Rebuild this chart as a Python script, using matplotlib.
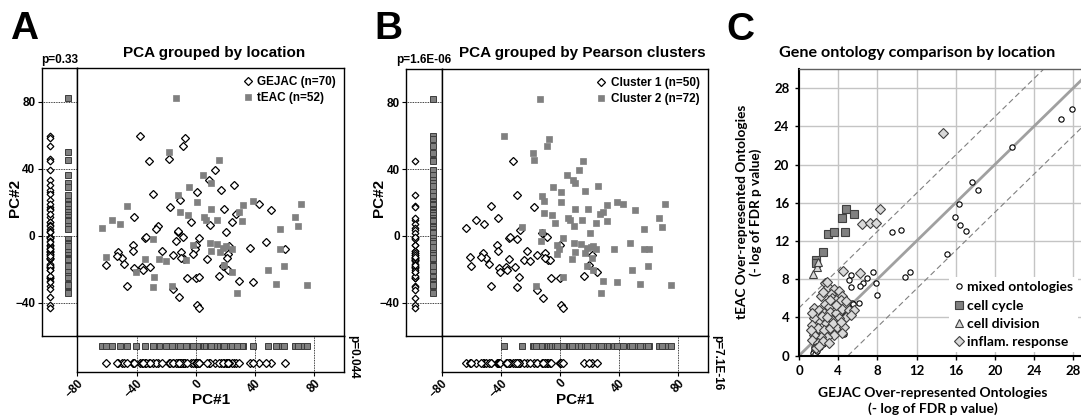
import matplotlib
matplotlib.use("Agg")
import matplotlib.pyplot as plt

# ---- PCA data (PC#1, PC#2) for 122 tumours -------------------------------
pc1 = [
    -37.6, -13.4, -7.4, -8.9, -18.4, -17.9, 15.7, 12.8, 4.9, -31.8,
    9.0, 10.0, -4.5, 0.5, 16.8, 25.8, -12.3, -29.1, -46.6, -17.3,
    -10.7, 0.5, 38.8, 42.6, 70.8, 31.8, 19.1, 9.9, 50.4, -56.5,
    -51.5, -41.9, -63.6, 29.1, 26.9, -10.7, -5.6, 67.2, 5.2, 6.7,
    14.6, -3.1, 24.4, 31.4, 9.4, 68.8, -25.8, -26.9, 57.0, -34.5,
    -33.8, -28.9, -12.3, -8.9, -11.9, 20.4, 2.3, -13.2, -42.6, -42.1,
    -52.4, -60.9, -49.8, -60.5, -48.2, -34.3, -22.6, -24.6, -20.2, -15.7,
    -9.9, -8.3, -6.7, -10.1, 0.0, -2.2, -0.7, -2.2, 9.4, 14.3,
    9.9, 16.6, 18.0, 22.4, 24.2, 21.7, 36.3, 47.1, 56.7, 60.1,
    7.8, 20.6, 21.3, -41.4, -40.3, -36.3, -30.7, -35.9, -28.0, -46.6,
    -29.1, -16.4, -15.7, -11.6, -6.0, 0.0, 2.3, 15.9, 19.3, 24.7,
    18.0, 22.0, 48.6, 59.2, 29.1, 38.3, 54.0, 75.1, 27.6, 0.5,
    2.2, -53.5,
]
pc2 = [
    59.7, 81.8, 58.3, 53.7, 49.8, 45.4, 45.0, 39.4, 36.4, 44.6,
    33.4, 31.5, 29.1, 26.1, 26.9, 30.0, 24.1, 24.5, 17.9, 17.1,
    21.1, 20.1, 20.5, 19.1, 19.1, 18.5, 15.9, 16.1, 15.5, 9.5,
    7.0, 10.9, 4.6, 14.3, 13.1, 13.9, 12.3, 10.9, 10.9, 9.5,
    9.5, 7.9, 7.9, 8.8, 6.0, 5.6, 5.6, 3.6, 4.0, -1.4,
    -0.8, -2.0, 2.0, -0.8, 2.4, 2.0, -1.2, -3.0, -5.4, -9.0,
    -10.0, -12.9, -13.5, -17.9, -17.1, -13.9, -9.2, -14.3, -15.3, -11.6,
    -10.0, -14.3, -14.7, -13.5, -5.6, -5.4, -7.9, -10.8, -4.4, -4.8,
    -9.4, -10.0, -7.4, -6.0, -8.0, -11.3, -7.6, -4.0, -8.0, -8.0,
    -13.9, -6.4, -13.4, -19.3, -21.9, -18.7, -18.7, -20.3, -24.9, -29.9,
    -30.6, -30.3, -32.2, -37.0, -25.5, -25.5, -24.7, -24.3, -17.5, -21.5,
    -18.3, -20.7, -20.3, -18.3, -27.3, -27.9, -29.1, -29.5, -34.2, -41.4,
    -43.4, -12.5,
]
# G = GEJAC, T = tEAC
location = list(
    "GTGGTGTGTG" "GTTGGGTGTG" "GTTGTTGTGT" "TGTTGTTTTT"
    "TGGTGTGGTG" "GTGGGGGGGG" "GTGGGTGTTG" "GGTGGTGGTT"
    "TTTGTGGGTG" "GTGGTGGGTG" "TTGGGGGGTT" "GGTTGGTTTG"
    "GG"
)
# Pearson cluster membership
cluster = [
    2, 2, 2, 2, 2, 2, 2, 2, 2, 1, 2, 2, 2, 2, 2, 2, 2, 1, 1, 1,
    2, 2, 2, 2, 2, 2, 2, 2, 2, 1, 1, 1, 1, 2, 2, 2, 2, 2, 2, 2,
    2, 2, 2, 2, 2, 2, 2, 1, 2, 1, 1, 1, 1, 1, 2, 2, 2, 2, 1, 1,
    1, 1, 1, 1, 1, 1, 1, 1, 1, 1, 1, 1, 1, 1, 1, 2, 2, 2, 2, 2,
    2, 2, 2, 2, 2, 1, 2, 2, 2, 2, 2, 2, 2, 1, 1, 1, 1, 1, 1, 1,
    1, 2, 1, 1, 1, 1, 2, 1, 1, 1, 2, 2, 2, 2, 2, 2, 2, 2, 2, 1,
    1, 1,
]

# ---- Gene ontology data (-log FDR p) --------------------------------------
mixed_x = [26.8, 27.9, 21.8, 17.7, 18.3, 16.3, 15.9, 16.45, 17.05, 15.1,
           9.5, 10.4, 10.8, 11.3, 7.56, 6.98, 6.57, 6.2, 7.83, 8.0,
           5.28, 5.1, 5.35, 5.45, 6.13, 4.5, 4.6, 4.43,
           1.5, 1.6, 1.7, 1.9, 2.0, 2.2, 2.3, 2.5, 2.7, 2.9,
           3.0, 3.2, 3.4, 3.6, 3.8, 4.0, 4.1, 4.3, 4.5, 4.8,
           5.0, 5.2, 5.5, 1.4, 1.6, 1.8, 2.1, 2.4, 2.6, 3.1,
           3.5, 3.9, 1.5, 1.8, 2.1, 1.5, 1.7, 1.6, 4.6, 4.2]
mixed_y = [24.8, 25.8, 21.8, 18.2, 17.35, 15.9, 14.55, 13.7, 13.0, 10.65,
           12.9, 13.2, 8.27, 8.8, 8.8, 8.17, 7.65, 7.3, 7.65, 6.4,
           8.45, 7.93, 7.23, 5.55, 5.55, 3.1, 2.3, 2.7,
           0.6, 1.0, 1.4, 1.2, 1.8, 1.5, 2.2, 2.0, 2.6, 2.4,
           3.1, 2.8, 3.3, 3.0, 3.6, 3.3, 4.0, 3.7, 4.2, 4.4,
           4.6, 4.9, 5.4, 0.3, 0.2, 0.5, 0.9, 1.2, 1.7, 2.2,
           2.5, 2.9, 1.8, 2.2, 2.6, 0.9, 0.7, 1.5, 4.8, 4.5]

cycle_x = [4.75, 4.35, 5.6, 2.95, 3.6, 4.7, 2.45, 1.75, 1.7]
cycle_y = [15.3, 14.45, 14.8, 12.7, 12.9, 12.9, 10.8, 10.0, 9.7]

division_x = [1.4, 1.8, 1.9]
division_y = [8.6, 9.3, 9.8]

inflam_x = [14.7, 8.3, 6.4, 7.2, 7.9, 4.5, 6.2, 2.7, 3.0, 3.6,
            3.3, 4.1, 4.4, 3.4, 3.8, 2.7, 3.1, 4.3, 4.8, 1.5,
            2.0, 2.55, 3.2, 3.75, 4.4, 5.1, 4.8, 4.1, 3.4, 2.7,
            2.0, 1.5, 1.35, 1.9, 2.55, 3.2, 3.9, 4.6, 4.4, 3.6,
            2.9, 2.2, 1.5, 1.35, 1.9, 2.4, 3.05, 1.7, 1.2, 5.6,
            3.75, 2.2, 2.4, 2.85, 3.2, 1.3, 2.3, 2.9, 3.5, 4.3,
            5.3, 2.0]
inflam_y = [23.3, 15.3, 13.8, 13.9, 13.9, 8.9, 8.7, 7.65, 7.2, 6.95,
            6.5, 6.8, 6.25, 6.0, 5.8, 5.4, 5.1, 5.8, 5.7, 5.0,
            4.8, 4.45, 4.6, 4.45, 4.85, 4.8, 4.1, 3.9, 3.75, 3.55,
            3.75, 3.9, 3.2, 2.9, 2.7, 2.9, 3.0, 3.0, 2.35, 2.2,
            2.0, 2.0, 2.2, 1.65, 1.3, 1.5, 1.3, 0.8, 2.7, 4.8,
            5.3, 6.2, 6.7, 7.75, 5.8, 4.5, 4.2, 4.0, 3.4, 3.5,
            4.3, 1.0]

W, H = 1081, 418
ARIAL = "Liberation Sans"
CALIBRI = "Lato"
GREY = "#808080"

fig = plt.figure(figsize=(W / 100, H / 100), dpi=100)


def px_box(x0, y0, x1, y1):
    return [x0 / W, 1 - y1 / H, (x1 - x0) / W, (y1 - y0) / H]


def bold_ticks(ax, size=8.5, family=ARIAL):
    for lab in ax.get_xticklabels() + ax.get_yticklabels():
        lab.set_fontfamily(family)
        lab.set_fontweight("bold")
        lab.set_fontsize(size)


def pca_panel(geom, square_group, names, title, title_x, p_top, p_right, letter):
    sl, ml, mr, top, mb, bb = geom
    ax_l = fig.add_axes(px_box(sl, top, ml, mb))
    ax_m = fig.add_axes(px_box(ml, top, mr, mb))
    ax_b = fig.add_axes(px_box(ml, mb, mr, bb))

    xa = [x for x, s in zip(pc1, square_group) if not s]
    ya = [y for y, s in zip(pc2, square_group) if not s]
    xb = [x for x, s in zip(pc1, square_group) if s]
    yb = [y for y, s in zip(pc2, square_group) if s]

    dia = dict(marker="D", ls="none", mfc="white", mec="black", mew=0.9)
    sq = dict(marker="s", ls="none", mfc=GREY, mec=GREY, mew=0.5)
    sq_strip = dict(marker="s", ls="none", mfc=GREY, mec="#3c3c3c", mew=0.7)

    ax_m.plot(xa, ya, ms=3.9, label=f"{names[0]} (n={len(xa)})", **dia)
    ax_m.plot(xb, yb, ms=4.8, label=f"{names[1]} (n={len(xb)})", **sq)
    ax_m.set_xlim(-80, 100)
    ax_m.set_ylim(-60, 100)
    ax_m.set_xticks([])
    ax_m.set_yticks([])
    ax_m.legend(loc="upper right", frameon=False, handletextpad=0.3,
                borderaxespad=0.3, labelspacing=0.35, handlelength=1.0,
                prop={"family": ARIAL, "weight": "bold", "size": 8.5})

    # strip of PC#2 values
    ax_l.plot([0.24] * len(ya), ya, ms=3.4, **dia)
    ax_l.plot([0.75] * len(yb), yb, ms=4.4, **sq_strip)
    ax_l.set_xlim(0, 1)
    ax_l.set_ylim(-60, 100)
    ax_l.set_xticks([])
    ax_l.set_yticks([-40, 0, 40, 80])
    ax_l.yaxis.grid(True, ls=(0, (1, 1)), color="black", lw=0.6)
    ax_l.set_axisbelow(True)
    ax_l.tick_params(axis="y", length=3, width=0.8, pad=1.5)
    bold_ticks(ax_l)

    # strip of PC#1 values
    ax_b.plot(xb, [0.72] * len(xb), ms=5.0, **sq_strip)
    ax_b.plot(xa, [0.25] * len(xa), ms=3.9, **dia)
    ax_b.set_xlim(-80, 100)
    ax_b.set_ylim(0, 1)
    ax_b.set_yticks([])
    ax_b.set_xticks([-80, -40, 0, 40, 80])
    ax_b.xaxis.grid(True, ls=(0, (1, 1)), color="black", lw=0.6)
    ax_b.set_axisbelow(True)
    ax_b.tick_params(axis="x", length=3, width=0.8, pad=1)
    bold_ticks(ax_b)
    plt.setp(ax_b.get_xticklabels(), rotation=45, ha="right", va="top",
             rotation_mode="anchor")

    for ax in (ax_l, ax_m, ax_b):
        for sp in ax.spines.values():
            sp.set_linewidth(1.0)

    fig.text(title_x / W, 1 - 53 / H, title, ha="center", va="center",
             fontsize=11, fontweight="bold", family=ARIAL)
    fig.text((sl + ml) / 2 / W, 1 - 60 / H, p_top, ha="center", va="center",
             fontsize=8.5, fontweight="bold", family=ARIAL)
    fig.text((mr + 9) / W, 1 - 335 / H, p_right, ha="center", va="top",
             rotation=270, fontsize=8.5, fontweight="bold", family=ARIAL)
    fig.text((sl - 27) / W, 1 - 198 / H, "PC#2", ha="center", va="center",
             rotation=90, fontsize=11, fontweight="bold", family=ARIAL)
    fig.text((ml + mr) / 2 / W, 1 - 400 / H, "PC#1", ha="center", va="center",
             fontsize=11, fontweight="bold", family=ARIAL)
    fig.text((sl - 32) / W, 1 - 29 / H, letter, ha="left", va="center",
             fontsize=28, fontweight="bold", family=ARIAL)


pca_panel((41.7, 77.3, 344, 68, 336, 372), [c == "T" for c in location],
          ("GEJAC", "tEAC"), "PCA grouped by location", 214,
          "p=0.33", "p=0.044", "A")
pca_panel((406, 441.7, 708, 69, 336, 371.7), [c == 2 for c in cluster],
          ("Cluster 1", "Cluster 2"), "PCA grouped by Pearson clusters", 582,
          "p=1.6E-06", "p=7.1E-16", "B")

# ---- Panel C --------------------------------------------------------------
ax_c = fig.add_axes(px_box(799, 69, 1081, 355.7))
ax_c.set_xlim(0, 28.8)
ax_c.set_ylim(0, 30)
ax_c.set_xticks(range(0, 29, 4))
ax_c.set_yticks(range(0, 29, 4))
ax_c.grid(True, color="#c4c4c4", lw=1.0)
ax_c.set_axisbelow(True)
ax_c.axline((0, 0), slope=1, color="#a0a0a0", lw=2.0, zorder=1)
ax_c.axline((0, 5), slope=1, color="#808080", lw=0.8, ls=(0, (5, 3)), zorder=1)
ax_c.axline((5, 0), slope=1, color="#808080", lw=0.8, ls=(0, (5, 3)), zorder=1)

ax_c.plot(mixed_x, mixed_y, "o", ms=3.8, mfc="white", mec="black", mew=0.8,
          label="mixed ontologies")
ax_c.plot(cycle_x, cycle_y, "s", ms=6.2, mfc=GREY, mec="#404040", mew=0.8,
          label="cell cycle")
ax_c.plot(division_x, division_y, "^", ms=5.2, mfc="#d9d9d9", mec="#404040",
          mew=0.8, label="cell division")
ax_c.plot(inflam_x, inflam_y, "D", ms=4.8, mfc="#d9d9d9", mec="#404040",
          mew=0.8, label="inflam. response")

ax_c.spines["right"].set_visible(False)
ax_c.spines["top"].set_color("#606060")
ax_c.spines["top"].set_linewidth(1.0)
ax_c.spines["left"].set_linewidth(1.5)
ax_c.spines["bottom"].set_linewidth(1.5)
ax_c.tick_params(length=3, width=1, pad=4)
bold_ticks(ax_c, size=9.5, family=CALIBRI)

leg = ax_c.legend(loc="lower right", bbox_to_anchor=(1.0, 0.0),
                  frameon=True, fancybox=False, framealpha=1,
                  edgecolor="none", handletextpad=0.2, handlelength=0.8,
                  labelspacing=0.45, borderaxespad=0.25, borderpad=0.3,
                  prop={"family": CALIBRI, "weight": "bold", "size": 10})

fig.text(749 / W, 1 - 212 / H,
         "tEAC Over-represented Ontologies\n(- log of FDR p value)",
         ha="center", va="center", rotation=90, fontsize=9.8,
         fontweight="bold", family=CALIBRI, linespacing=1.2)
fig.text(933 / W, 1 - 401 / H,
         "GEJAC Over-represented Ontologies\n(- log of FDR p value)",
         ha="center", va="center", fontsize=10, fontweight="bold",
         family=CALIBRI, linespacing=1.25)
fig.text(917 / W, 1 - 53 / H, "Gene ontology comparison by location",
         ha="center", va="center", fontsize=11.6, fontweight="bold",
         family=CALIBRI)
fig.text(726 / W, 1 - 30 / H, "C", ha="left", va="center", fontsize=28,
         fontweight="bold", family=ARIAL)

fig.savefig("out.png", dpi=100)
